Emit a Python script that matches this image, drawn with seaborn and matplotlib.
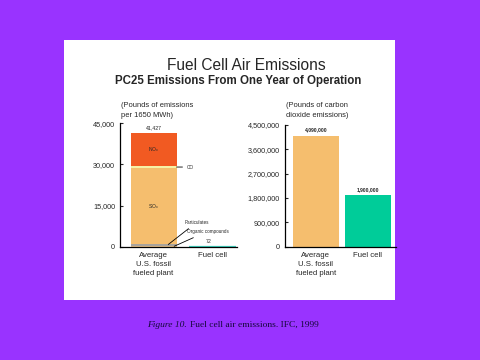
import numpy as np
import pandas as pd
import matplotlib
matplotlib.use("Agg")
import matplotlib.pyplot as plt
import seaborn as sns
from matplotlib.patches import Rectangle
from matplotlib.ticker import FuncFormatter

# data
plants = ["Average\nU.S. fossil\nfueled plant", "Fuel cell"]
# emission components for the average fossil plant (lbs per 1650 MWh), bottom -> top
components = ["Organic compounds", "Particulates", "SOx", "CO", "NOx"]
fossil_lbs = [400, 500, 27800, 700, 12027]
fuel_cell_lbs = 72
co2_lbs = [4090000, 1900000]

left_ticks = [0, 15000, 30000, 45000]
right_ticks = [0, 900000, 1800000, 2700000, 3600000, 4500000]

purple = "#9933ff"
comp_colors = {"Organic compounds": "#e6c088", "Particulates": "#a8a39c",
               "SOx": "#f5be6e", "CO": "#f6f2a6", "NOx": "#f15a22"}
teal_light = "#3fd3c0"
teal = "#00cc99"

sns.set_style("white")
plt.rcParams['font.family'] = ['Liberation Sans', 'DejaVu Sans']

fig = plt.figure(figsize=(4.8, 3.6), dpi=100, facecolor=purple)
fig.patches.append(Rectangle((64 / 480, 60 / 360), 331 / 480, 260 / 360,
                             transform=fig.transFigure, facecolor="white",
                             edgecolor="none", zorder=-5))

fig.text(0.514, 0.819, "Fuel Cell Air Emissions", ha="center", va="center", fontsize=11.2)
fig.text(0.496, 0.775, "PC25 Emissions From One Year of Operation", ha="center",
         va="center", fontsize=8.3, fontweight="bold")

# ---------- left chart: stacked emissions ----------
axl = fig.add_axes([120 / 480, 113.3 / 360, 117 / 480, 123.4 / 360])
cum = np.cumsum(fossil_lbs)
total = cum[-1]

# fuel cell bar
sns.barplot(x=[plants[1]], y=[fuel_cell_lbs], order=plants, color=teal_light,
            saturation=1, width=0.8, ax=axl, edgecolor=teal_light, linewidth=1.6)
# stacked layers drawn from the top down
for name, c in zip(components[::-1], cum[::-1]):
    sns.barplot(x=[plants[0]], y=[c], order=plants, color=comp_colors[name],
                saturation=1, width=0.78, ax=axl, linewidth=0)

axl.set_xlim(-0.568, 1.415)
axl.set_ylim(0, 45000)
axl.set_yticks(left_ticks)
axl.yaxis.set_major_formatter(FuncFormatter(lambda v, p: f"{v:,.0f}"))
axl.set_xlabel("")
axl.set_ylabel("")

# in-bar labels
nox_mid = cum[3] + fossil_lbs[4] / 2
sox_mid = cum[1] + fossil_lbs[2] / 2
axl.text(0, nox_mid, r"$\mathregular{NO_x}$", ha="center", va="center", fontsize=3.6)
axl.text(0, sox_mid, r"$\mathregular{SO_x}$", ha="center", va="center", fontsize=3.6)
axl.annotate(f"{total:,.0f}", xy=(0, total), xytext=(0, 2), textcoords="offset points",
             ha="center", va="bottom", fontsize=3.8)
axl.annotate(f"{fuel_cell_lbs}", xy=(1, fuel_cell_lbs), xytext=(-3, 2),
             textcoords="offset points", ha="center", va="bottom", fontsize=3.8)

# leader-line labels
co_mid = cum[2] + fossil_lbs[3] / 2
axl.annotate("CO", xy=(0.39, co_mid), xytext=(0.57, co_mid), ha="left", va="center",
             fontsize=3.4, arrowprops=dict(arrowstyle="-", lw=0.6, color="black",
                                           shrinkA=1, shrinkB=0))
axl.annotate("Particulates", xy=(0.25, cum[1] - 100), xytext=(0.53, 9000), ha="left",
             va="center", fontsize=3.3,
             arrowprops=dict(arrowstyle="-", lw=0.6, color="black", shrinkA=1, shrinkB=0))
axl.annotate("Organic compounds", xy=(0.35, 150), xytext=(0.56, 5600), ha="left",
             va="center", fontsize=3.3,
             arrowprops=dict(arrowstyle="-", lw=0.6, color="black", shrinkA=1, shrinkB=0))

axl.text(0.01, 1.035, "(Pounds of emissions\nper 1650 MWh)", transform=axl.transAxes,
         ha="left", va="bottom", fontsize=5.4, linespacing=1.5)

# ---------- right chart: CO2 ----------
axr = fig.add_axes([284.5 / 480, 113.3 / 360, 112 / 480, 121.7 / 360])
co2_df = pd.DataFrame({"plant": plants, "co2": co2_lbs})
sns.barplot(data=co2_df, x="plant", y="co2", hue="plant", palette=["#f5be6e", teal],
            saturation=1, width=0.89, legend=False, ax=axr, linewidth=0)
axr.set_xlim(-0.6, 1.55)
axr.set_ylim(0, 4500000)
axr.set_yticks(right_ticks)
axr.yaxis.set_major_formatter(FuncFormatter(lambda v, p: f"{v:,.0f}"))
axr.set_xlabel("")
axr.set_ylabel("")
for i, v in enumerate(co2_lbs):
    axr.annotate(f"{v:,.0f}", xy=(i, v), xytext=(0, 2.5), textcoords="offset points",
                 ha="center", va="bottom", fontsize=3.6, fontweight="bold")
axr.text(0.01, 1.05, "(Pounds of carbon\ndioxide emissions)", transform=axr.transAxes,
         ha="left", va="bottom", fontsize=5.4, linespacing=1.5)

for ax in (axl, axr):
    ax.set_facecolor("none")
    sns.despine(ax=ax)
    for s in ("left", "bottom"):
        ax.spines[s].set_color("black")
        ax.spines[s].set_linewidth(0.9)
    ax.tick_params(axis="y", direction="in", length=2.5, width=0.8, pad=3.5, labelsize=5.2,
                   left=True)
    ax.tick_params(axis="x", length=0, pad=4, labelsize=5.6)
    for lab in ax.get_xticklabels():
        lab.set_linespacing(1.35)

fig.text(147 / 480, 1 - 325 / 360, "Figure 10.", ha="left", va="center", fontsize=6.8,
         color="#14083a", family=["Liberation Serif"], fontstyle="italic")
fig.text(190 / 480, 1 - 325 / 360, "Fuel cell air emissions. IFC, 1999", ha="left",
         va="center", fontsize=6.8, color="#14083a", family=["Liberation Serif"])

fig.savefig("out.png", dpi=100, facecolor=purple)
